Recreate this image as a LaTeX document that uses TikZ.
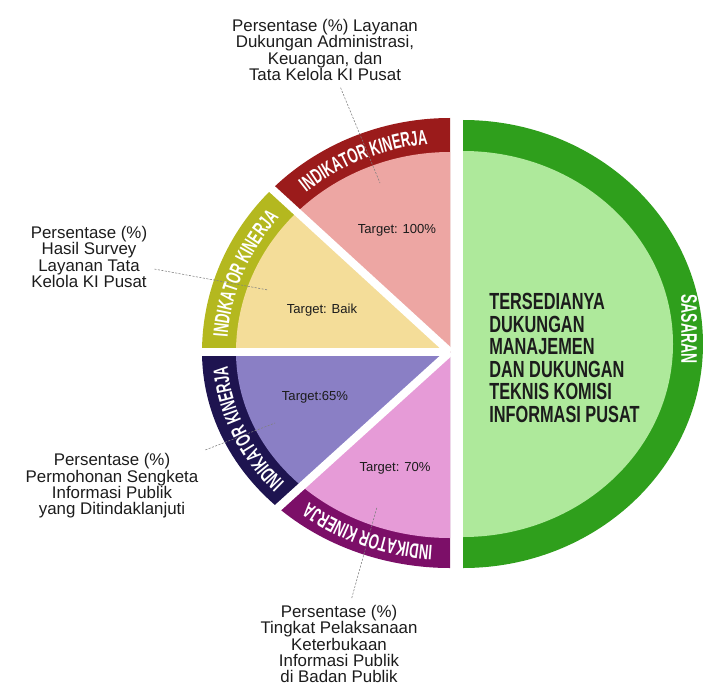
\documentclass[tikz,border=0pt]{standalone}
\usepackage{fontspec}
\setmainfont{Liberation Sans}
\newfontfamily\bandfont[FakeStretch=0.62]{Liberation Sans}
\newfontfamily\goalfont[FakeStretch=0.7]{Liberation Sans}
\usetikzlibrary{calc,decorations.text}

\definecolor{redband}{HTML}{9B1B1B}
\definecolor{redfill}{HTML}{EDA6A3}
\definecolor{oliveband}{HTML}{B4B81F}
\definecolor{yellowfill}{HTML}{F4DD99}
\definecolor{navyband}{HTML}{1E1450}
\definecolor{purplefill}{HTML}{8A7FC5}
\definecolor{magentaband}{HTML}{7C0F68}
\definecolor{pinkfill}{HTML}{E69BD7}
\definecolor{greenring}{HTML}{2F9F1C}
\definecolor{greenfill}{HTML}{AEE99B}
\definecolor{inktext}{HTML}{1C1C1C}

\tikzset{
  lbl/.style={align=center, text=inktext, inner sep=2pt, font=\fontsize{12}{11.6}\selectfont},
  tgt/.style={text=inktext, inner sep=1pt, font=\fontsize{9.3}{10}\selectfont},
  leader/.style={gray, line width=0.4pt, dash pattern=on 1.5pt off 1pt, shorten <=3pt},
  gapline/.style={white, line width=2mm},
  bandtext/.style={decorate, decoration={text along path, text align=center,
    text={|\bandfont\bfseries\fontsize{14.9}{15}\selectfont\color{white}|INDIKATOR KINERJA}}}
}

\begin{document}
\begin{tikzpicture}[x=0.025cm, y=0.025cm]
  \useasboundingbox (0,0) rectangle (703,687);
  \coordinate (apex) at (450,335);
  \coordinate (sas) at (463,343);

  % Sasaran half disc
  \fill[greenring] ($(sas)+(0,224)$) arc[start angle=90, end angle=-90, x radius=240, y radius=224] -- cycle;
  \fill[greenfill] ($(sas)+(0,193)$) arc[start angle=90, end angle=-90, x radius=210, y radius=193] -- cycle;

  % Indikator sectors (band, then fill)
  \fill[redband] (apex) -- ($(apex)+(136:248 and 234)$) arc[start angle=136, end angle=90, x radius=248, y radius=234] -- cycle;
  \fill[redfill] (apex) -- ($(apex)+(136:214 and 200)$) arc[start angle=136, end angle=90, x radius=214, y radius=200] -- cycle;
  \fill[oliveband] (apex) -- ($(apex)+(180:248 and 234)$) arc[start angle=180, end angle=136, x radius=248, y radius=234] -- cycle;
  \fill[yellowfill] (apex) -- ($(apex)+(180:214 and 200)$) arc[start angle=180, end angle=136, x radius=214, y radius=200] -- cycle;
  \fill[navyband] (apex) -- ($(apex)+(226:248 and 216)$) arc[start angle=226, end angle=180, x radius=248, y radius=216] -- cycle;
  \fill[purplefill] (apex) -- ($(apex)+(226:214 and 186)$) arc[start angle=226, end angle=180, x radius=214, y radius=186] -- cycle;
  \fill[magentaband] (apex) -- ($(apex)+(270:248 and 216)$) arc[start angle=270, end angle=226, x radius=248, y radius=216] -- cycle;
  \fill[pinkfill] (apex) -- ($(apex)+(270:214 and 186)$) arc[start angle=270, end angle=226, x radius=214, y radius=186] -- cycle;

  % White gaps
  \draw[gapline] (apex) -- ($(apex)+(136:270 and 256)$);
  \draw[gapline] (apex) -- ++(-270,0);
  \draw[gapline] (apex) -- ($(apex)+(226:270 and 236)$);

  % Band texts
  \path[bandtext] ($(apex)+(136:223 and 209)$) arc[start angle=136, end angle=90, x radius=223, y radius=209];
  \path[bandtext] ($(apex)+(180:223 and 209)$) arc[start angle=180, end angle=136, x radius=223, y radius=209];
  \path[bandtext] ($(apex)+(226:223 and 194)$) arc[start angle=226, end angle=180, x radius=223, y radius=194];
  \path[bandtext] ($(apex)+(270:223 and 194)$) arc[start angle=270, end angle=226, x radius=223, y radius=194];

  % Targets
  \node[tgt] (tgtAdm) at (397,457) {Target: 100\%};
  \node[tgt] (tgtSurvey) at (322,377) {Target: Baik};
  \node[tgt] (tgtSengketa) at (315,290) {Target:65\%};
  \node[tgt] (tgtTerbuka) at (395,219) {Target: 70\%};

  % Sasaran texts
  \node[anchor=west, align=left, inner sep=0pt, text=inktext, font=\goalfont\bfseries\fontsize{16.6}{16.1}\selectfont] (goal) at (489,329)
    {TERSEDIANYA\\DUKUNGAN\\MANAJEMEN\\DAN DUKUNGAN\\TEKNIS KOMISI\\INFORMASI PUSAT};
  \node[rotate=-90, inner sep=0pt, text=white, font=\bandfont\bfseries\fontsize{16}{16}\selectfont] (sasaran) at (689,358) {SASARAN};

  % Indikator labels
  \node[lbl] (lblAdm) at (325,637) {Persentase (\%) Layanan\\Dukungan Administrasi,\\Keuangan, dan\\Tata Kelola KI Pusat};
  \node[lbl] (lblSurvey) at (89,430) {Persentase (\%)\\Hasil Survey\\Layanan Tata\\Kelola KI Pusat};
  \node[lbl] (lblSengketa) at (112,201) {Persentase (\%)\\Permohonan Sengketa\\Informasi Publik\\yang Ditindaklanjuti};
  \node[lbl] (lblTerbuka) at (339,43) {Persentase (\%)\\Tingkat Pelaksanaan\\Keterbukaan\\Informasi Publik\\di Badan Publik};

  % Leaders
  \coordinate (tipAdm) at (380,504);
  \coordinate (tipSurvey) at (268,397);
  \coordinate (tipSengketa) at (275,264);
  \coordinate (tipTerbuka) at (377,180);
  \draw[leader] (lblAdm) -- (tipAdm);
  \draw[leader] (lblSurvey) -- (tipSurvey);
  \draw[leader] (lblSengketa) -- (tipSengketa);
  \draw[leader] (lblTerbuka) -- (tipTerbuka);
\end{tikzpicture}
\end{document}
